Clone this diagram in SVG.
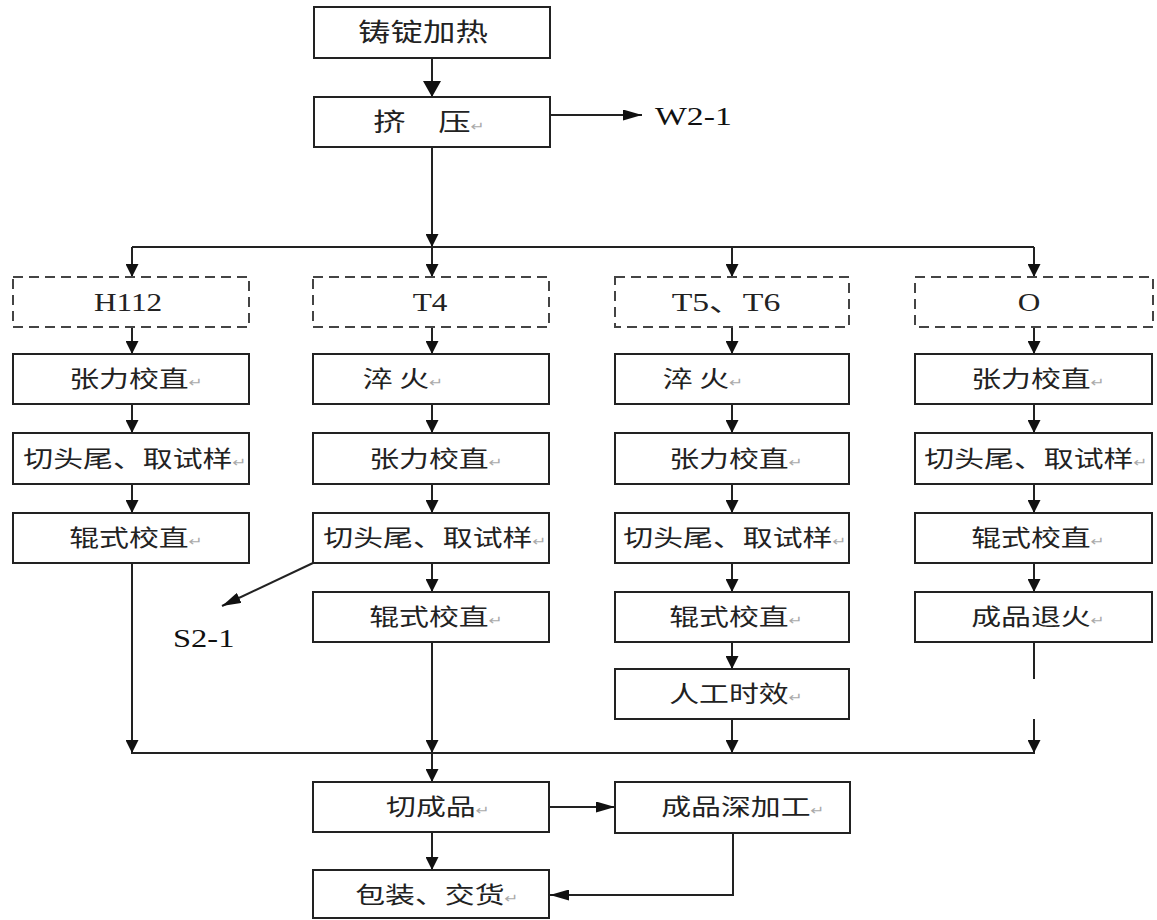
<svg xmlns="http://www.w3.org/2000/svg" width="1157" height="920" viewBox="0 0 1157 920">
<defs>
<style>
.box{fill:#fff;stroke:#222;stroke-width:2}
.dbox{fill:#fff;stroke:#444;stroke-width:2;stroke-dasharray:10 6}
.ln{fill:none;stroke:#222;stroke-width:2}
.t{font-family:"Noto Sans CJK SC","Noto Sans",sans-serif;font-size:23px;fill:#222;text-anchor:middle}
.big{font-size:25px}
.lat{font-family:"Liberation Serif","Noto Sans CJK SC",serif;font-size:25px;fill:#222;text-anchor:middle}
.out{font-family:"Liberation Serif",serif;font-size:25px;fill:#111}
.p{font-family:"DejaVu Sans",sans-serif;font-size:13px;fill:#aaa}
</style>
<marker id="a" markerUnits="userSpaceOnUse" markerWidth="13" markerHeight="13" refX="13" refY="6.5" orient="auto"><path d="M0,0 L13,6.5 L0,13 z" fill="#111"/></marker>
<marker id="ab" markerUnits="userSpaceOnUse" markerWidth="16" markerHeight="18" refX="16" refY="9" orient="auto"><path d="M0,0 L16,9 L0,18 z" fill="#111"/></marker>
<marker id="ah" markerUnits="userSpaceOnUse" markerWidth="19" markerHeight="11" refX="19" refY="5.5" orient="auto"><path d="M0,0 L19,5.5 L0,11 z" fill="#111"/></marker>
</defs>
<rect width="1157" height="920" fill="#fff"/>

<g id="connectors">
<line class="ln" x1="432" y1="58" x2="432" y2="97" marker-end="url(#ab)"/>
<line class="ln" x1="550" y1="115" x2="642" y2="115" marker-end="url(#ah)"/>
<line class="ln" x1="432" y1="147" x2="432" y2="247" marker-end="url(#a)"/>
<line class="ln" x1="132" y1="247" x2="1034" y2="247"/>
<line class="ln" x1="132" y1="247" x2="132" y2="277" marker-end="url(#a)"/>
<line class="ln" x1="432" y1="247" x2="432" y2="277" marker-end="url(#a)"/>
<line class="ln" x1="732" y1="247" x2="732" y2="277" marker-end="url(#a)"/>
<line class="ln" x1="1034" y1="247" x2="1034" y2="277" marker-end="url(#a)"/>
<line class="ln" x1="132" y1="327" x2="132" y2="354" marker-end="url(#a)"/>
<line class="ln" x1="132" y1="404" x2="132" y2="433" marker-end="url(#a)"/>
<line class="ln" x1="132" y1="484" x2="132" y2="513" marker-end="url(#a)"/>
<line class="ln" x1="132" y1="563" x2="132" y2="753" marker-end="url(#a)"/>
<line class="ln" x1="432" y1="327" x2="432" y2="354" marker-end="url(#a)"/>
<line class="ln" x1="432" y1="404" x2="432" y2="433" marker-end="url(#a)"/>
<line class="ln" x1="432" y1="484" x2="432" y2="513" marker-end="url(#a)"/>
<line class="ln" x1="432" y1="563" x2="432" y2="592" marker-end="url(#a)"/>
<line class="ln" x1="432" y1="642" x2="432" y2="753" marker-end="url(#a)"/>
<line class="ln" x1="313" y1="563" x2="222" y2="606" marker-end="url(#ah)"/>
<line class="ln" x1="732" y1="327" x2="732" y2="354" marker-end="url(#a)"/>
<line class="ln" x1="732" y1="404" x2="732" y2="433" marker-end="url(#a)"/>
<line class="ln" x1="732" y1="484" x2="732" y2="513" marker-end="url(#a)"/>
<line class="ln" x1="732" y1="563" x2="732" y2="592" marker-end="url(#a)"/>
<line class="ln" x1="732" y1="642" x2="732" y2="669" marker-end="url(#a)"/>
<line class="ln" x1="732" y1="719" x2="732" y2="753" marker-end="url(#a)"/>
<line class="ln" x1="1034" y1="327" x2="1034" y2="354" marker-end="url(#a)"/>
<line class="ln" x1="1034" y1="404" x2="1034" y2="433" marker-end="url(#a)"/>
<line class="ln" x1="1034" y1="484" x2="1034" y2="513" marker-end="url(#a)"/>
<line class="ln" x1="1034" y1="563" x2="1034" y2="592" marker-end="url(#a)"/>
<line class="ln" x1="1034" y1="642" x2="1034" y2="679"/>
<line class="ln" x1="1034" y1="719" x2="1034" y2="753" marker-end="url(#a)"/>
<line class="ln" x1="131" y1="753" x2="1035" y2="753"/>
<line class="ln" x1="432" y1="753" x2="432" y2="782" marker-end="url(#a)"/>
<line class="ln" x1="432" y1="832" x2="432" y2="870" marker-end="url(#a)"/>
<line class="ln" x1="549" y1="807" x2="615" y2="807" marker-end="url(#ah)"/>
<polyline class="ln" points="733,833 733,895 550,895" marker-end="url(#ah)"/>
</g>

<g id="n-heat"><rect class="box" x="314" y="7" width="236" height="51"/><text class="t big" transform="translate(423 41) scale(1.3 1)">铸锭加热</text></g>
<g id="n-extrude"><rect class="box" x="314" y="97" width="236" height="50"/><text class="t big" transform="translate(429 131) scale(1.3 1)">挤　压<tspan class="p">↵</tspan></text></g>
<g id="o-w21"><text class="out" transform="translate(655 125) scale(1.35 1)">W2-1</text></g>
<g id="o-s21"><text class="out" transform="translate(173 647) scale(1.3 1)">S2-1</text></g>

<g id="c1-h112"><rect class="dbox" x="13" y="277" width="236" height="50"/><text class="lat" transform="translate(128 311) scale(1.25 1)">H112</text></g>
<g id="c1-tension"><rect class="box" x="13" y="354" width="236" height="50"/><text class="t" transform="translate(136 387) scale(1.3 1)">张力校直<tspan class="p">↵</tspan></text></g>
<g id="c1-cut"><rect class="box" x="13" y="433" width="236" height="51"/><text class="t" transform="translate(135 467) scale(1.3 1)">切头尾、取试样<tspan class="p">↵</tspan></text></g>
<g id="c1-roll"><rect class="box" x="13" y="513" width="236" height="50"/><text class="t" transform="translate(136 546) scale(1.3 1)">辊式校直<tspan class="p">↵</tspan></text></g>

<g id="c2-t4"><rect class="dbox" x="313" y="277" width="236" height="50"/><text class="lat" transform="translate(430 311) scale(1.25 1)">T4</text></g>
<g id="c2-quench"><rect class="box" x="313" y="354" width="236" height="50"/><text class="t" transform="translate(403 387) scale(1.3 1)">淬 火<tspan class="p">↵</tspan></text></g>
<g id="c2-tension"><rect class="box" x="313" y="433" width="236" height="51"/><text class="t" transform="translate(436 467) scale(1.3 1)">张力校直<tspan class="p">↵</tspan></text></g>
<g id="c2-cut"><rect class="box" x="313" y="513" width="236" height="50"/><text class="t" transform="translate(435 546) scale(1.3 1)">切头尾、取试样<tspan class="p">↵</tspan></text></g>
<g id="c2-roll"><rect class="box" x="313" y="592" width="236" height="50"/><text class="t" transform="translate(436 625) scale(1.3 1)">辊式校直<tspan class="p">↵</tspan></text></g>

<g id="c3-t56"><rect class="dbox" x="615" y="277" width="234" height="50"/><text class="lat" transform="translate(726 311) scale(1.35 1)">T5、T6</text></g>
<g id="c3-quench"><rect class="box" x="615" y="354" width="234" height="50"/><text class="t" transform="translate(703 387) scale(1.3 1)">淬 火<tspan class="p">↵</tspan></text></g>
<g id="c3-tension"><rect class="box" x="615" y="433" width="234" height="51"/><text class="t" transform="translate(736 467) scale(1.3 1)">张力校直<tspan class="p">↵</tspan></text></g>
<g id="c3-cut"><rect class="box" x="615" y="513" width="234" height="50"/><text class="t" transform="translate(735 546) scale(1.3 1)">切头尾、取试样<tspan class="p">↵</tspan></text></g>
<g id="c3-roll"><rect class="box" x="615" y="592" width="234" height="50"/><text class="t" transform="translate(736 625) scale(1.3 1)">辊式校直<tspan class="p">↵</tspan></text></g>
<g id="c3-aging"><rect class="box" x="615" y="669" width="234" height="50"/><text class="t" transform="translate(736 702) scale(1.3 1)">人工时效<tspan class="p">↵</tspan></text></g>

<g id="c4-o"><rect class="dbox" x="915" y="277" width="238" height="50"/><text class="lat" transform="translate(1029 311) scale(1.25 1)">O</text></g>
<g id="c4-tension"><rect class="box" x="915" y="354" width="237" height="50"/><text class="t" transform="translate(1038 387) scale(1.3 1)">张力校直<tspan class="p">↵</tspan></text></g>
<g id="c4-cut"><rect class="box" x="915" y="433" width="237" height="51"/><text class="t" transform="translate(1036 467) scale(1.3 1)">切头尾、取试样<tspan class="p">↵</tspan></text></g>
<g id="c4-roll"><rect class="box" x="915" y="513" width="237" height="50"/><text class="t" transform="translate(1038 546) scale(1.3 1)">辊式校直<tspan class="p">↵</tspan></text></g>
<g id="c4-anneal"><rect class="box" x="915" y="592" width="237" height="50"/><text class="t" transform="translate(1038 625) scale(1.3 1)">成品退火<tspan class="p">↵</tspan></text></g>

<g id="n-cutprod"><rect class="box" x="313" y="782" width="236" height="50"/><text class="t" transform="translate(438 815) scale(1.3 1)">切成品<tspan class="p">↵</tspan></text></g>
<g id="n-deep"><rect class="box" x="615" y="782" width="235" height="51"/><text class="t" transform="translate(743 815) scale(1.3 1)">成品深加工<tspan class="p">↵</tspan></text></g>
<g id="n-pack"><rect class="box" x="313" y="870" width="236" height="48"/><text class="t" transform="translate(437 903) scale(1.3 1)">包装、交货<tspan class="p">↵</tspan></text></g>
</svg>
